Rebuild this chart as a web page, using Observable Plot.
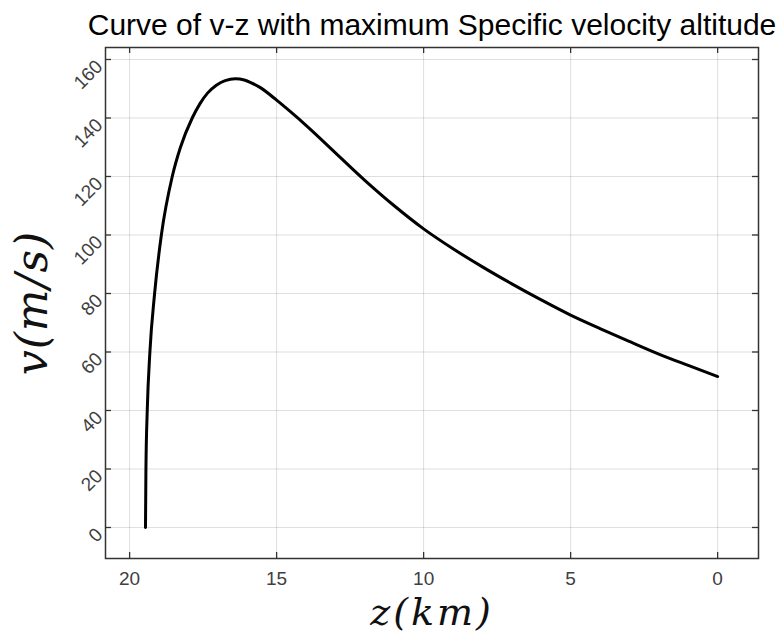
<!DOCTYPE html>
<html>
<head>
<meta charset="utf-8">
<script src="https://cdn.jsdelivr.net/npm/d3@7"></script>
<script src="https://cdn.jsdelivr.net/npm/@observablehq/plot@0.6"></script>
<style>
  html, body { margin: 0; padding: 0; background: #fff; }
</style>
</head>
<body>
<div id="chart"></div>
<script>
// Altitude z (km) and specific velocity v (m/s)
const zKm = [19.46, 19.445, 19.40, 19.31, 19.15, 18.92, 18.55, 18.27, 17.87, 17.6, 17.35, 17.05, 16.75, 16.4, 16.1, 15.88, 15.54, 15.0, 14.5, 14.0, 13.0, 12.0, 11.0, 10.0, 9.0, 8.0, 7.0, 6.0, 5.0, 4.0, 3.0, 2.0, 1.0, 0];
const vMs = [0, 20, 40, 60, 80, 100, 120, 130, 140, 145, 148.5, 151.2, 152.8, 153.4, 153.0, 152.1, 150.3, 146.1, 141.9, 137.5, 128.1, 118.7, 110.0, 102.1, 95.3, 89.1, 83.3, 77.8, 72.6, 68.0, 63.6, 59.3, 55.4, 51.6];

const xTicks = [20, 15, 10, 5, 0];
const yTicks = [0, 20, 40, 60, 80, 100, 120, 140, 160];
const xDomain = [20.82, -1.39];
const yDomain = [-10.6, 164.1];

const titleText = "Curve of v-z with maximum Specific velocity altitude";
const xLabel = "z(km)";
const yLabel = "v(m/s)";

const data = zKm.map((z, i) => ({z, v: vMs[i]}));

const W = 779, H = 632;
const mT = 47, mR = 21, mB = 74, mL = 105;
const innerW = W - mL - mR, innerH = H - mT - mB;
const tickLen = 6;
const frameColor = "#333333";

const chart = Plot.plot({
  width: W,
  height: H,
  marginTop: mT,
  marginRight: mR,
  marginBottom: mB,
  marginLeft: mL,
  style: {fontFamily: "'Liberation Sans', Arial, sans-serif", fontSize: "19px", background: "#fff"},
  x: {domain: xDomain, axis: null},
  y: {domain: yDomain, axis: null},
  marks: [
    // grid
    Plot.gridX(xTicks, {stroke: "#000", strokeOpacity: 0.13, strokeWidth: 1}),
    Plot.gridY(yTicks, {stroke: "#000", strokeOpacity: 0.13, strokeWidth: 1}),
    // inward ticks on all four sides
    Plot.ruleX(xTicks, {x: d => d, insetTop: innerH - tickLen, stroke: frameColor, strokeWidth: 1.3}),
    Plot.ruleX(xTicks, {x: d => d, insetBottom: innerH - tickLen, stroke: frameColor, strokeWidth: 1.3}),
    Plot.ruleY(yTicks, {y: d => d, insetRight: innerW - tickLen, stroke: frameColor, strokeWidth: 1.3}),
    Plot.ruleY(yTicks, {y: d => d, insetLeft: innerW - tickLen, stroke: frameColor, strokeWidth: 1.3}),
    // curve
    Plot.line(data, {x: "z", y: "v", curve: "monotone-x", stroke: "#000", strokeWidth: 3}),
    Plot.frame({stroke: frameColor, strokeWidth: 1.5}),
    // tick labels
    Plot.text(xTicks, {x: d => d, frameAnchor: "bottom", text: d => String(d), lineAnchor: "top", dy: 12.5, fill: "#404040", fontSize: 19}),
    Plot.text(yTicks, {y: d => d, frameAnchor: "left", text: d => String(d), rotate: -45, textAnchor: "end", lineAnchor: "middle", dx: -6, dy: 4, fill: "#404040", fontSize: 19}),
    // axis labels
    Plot.text([xLabel], {frameAnchor: "bottom", text: d => d, textAnchor: "middle", lineAnchor: "bottom", dy: 66, fontFamily: "'DejaVu Serif', serif", fontStyle: "italic", fontSize: 38, fill: "#111"}),
    Plot.text([yLabel], {frameAnchor: "left", text: d => d, textAnchor: "middle", rotate: -90, lineAnchor: "middle", dx: -73, fontFamily: "'DejaVu Serif', serif", fontStyle: "italic", fontSize: 44, fill: "#111"}),
    // title
    Plot.text([titleText], {frameAnchor: "top", text: d => d, textAnchor: "middle", lineAnchor: "bottom", dy: -13, fontSize: 30, fill: "#000"})
  ]
});

// widen the math-style axis labels a little (letter spacing only)
d3.select(chart).selectAll("text").each(function () {
  const t = this.textContent;
  if (t === xLabel) this.setAttribute("letter-spacing", "3px");
  if (t === yLabel) this.setAttribute("letter-spacing", "1px");
});

document.getElementById("chart").appendChild(chart);
</script>
</body>
</html>
